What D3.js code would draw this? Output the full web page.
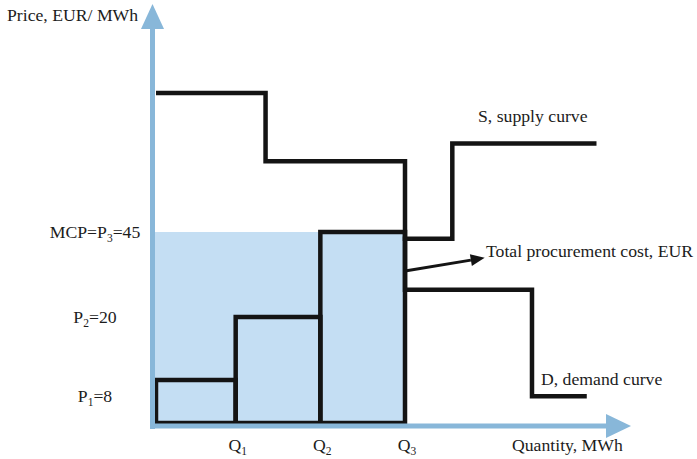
<!DOCTYPE html>
<html>
<head>
<meta charset="utf-8">
<script src="https://cdn.jsdelivr.net/npm/d3@7"></script>
<style>
  html, body { margin: 0; padding: 0; background: #fff; }
  svg { display: block; }
</style>
</head>
<body>
<svg id="chart" width="697" height="459"></svg>
<script>
// ---------------- data ----------------
const quantities = [0, 16, 33, 50];            // 0, Q1, Q2, Q3
const quantityLabels = ["Q1", "Q2", "Q3"];
const supplyPrices = [8, 20, 45];               // P1, P2, P3 (step prices)
const priceLabels = ["P1=8", "P2=20", "MCP=P3=45"];
const supplyExtQ = [50, 59.5, 88];              // supply curve beyond Q3
const supplyExtP = [43, 80, 80];
const demandQ = [0, 22, 50, 75.5, 86.5];
const demandP = [100, 73, 28, 5, 5];
const priceDomain = [0, 8, 20, 45, 100];        // schematic (non-linear) price axis
const costArrowQ = [50, 66];
const costArrowP = [33.5, 37.4];

// ---------------- layout ----------------
const FONT = "'Liberation Serif', 'Times New Roman', Times, serif";
const FS = 17.7;
const svg = d3.select("#chart");
const x = d3.scaleLinear().domain([0, 50]).range([156, 405]);
const y = d3.scaleLinear().domain(priceDomain).range([423, 380, 317, 232, 93]);
const axisColor = "#88b7d9";
const fillColor = "#c4def3";
const ink = "#141414";
const textColor = "#1c1c1c";
const axisX = 152.5, axisY = 426;

// shaded total procurement cost area
svg.append("rect")
  .attr("x", 150).attr("y", y(supplyPrices[2]))
  .attr("width", x(quantities[3]) - 150)
  .attr("height", 428 - y(supplyPrices[2]))
  .attr("fill", fillColor);

// supply bars (outlined steps)
const bars = supplyPrices.map((p, i) => ({ q0: quantities[i], q1: quantities[i + 1], p }));
svg.selectAll("rect.bar").data(bars).join("rect")
  .attr("class", "bar")
  .attr("x", d => x(d.q0)).attr("y", d => y(d.p))
  .attr("width", d => x(d.q1) - x(d.q0))
  .attr("height", d => y(0) - y(d.p))
  .attr("fill", "none").attr("stroke", ink).attr("stroke-width", 4.5);

const line = d3.line().x(d => x(d[0])).y(d => y(d[1])).curve(d3.curveStepAfter);

// supply curve beyond Q3
svg.append("path")
  .attr("d", line(supplyExtQ.map((q, i) => [q, supplyExtP[i]])))
  .attr("fill", "none").attr("stroke", ink).attr("stroke-width", 4.5)
  .attr("stroke-linejoin", "miter").attr("stroke-linecap", "square");

// demand curve
svg.append("path")
  .attr("d", line(demandQ.map((q, i) => [q, demandP[i]])))
  .attr("fill", "none").attr("stroke", ink).attr("stroke-width", 4.5)
  .attr("stroke-linejoin", "miter").attr("stroke-linecap", "butt");

// axes (arrows)
svg.append("line").attr("x1", axisX).attr("y1", 429).attr("x2", axisX).attr("y2", 26)
  .attr("stroke", axisColor).attr("stroke-width", 5);
svg.append("path").attr("d", `M${axisX},4 L${axisX - 11.5},29 L${axisX + 11.5},29 Z`).attr("fill", axisColor);
svg.append("line").attr("x1", 150).attr("y1", axisY).attr("x2", 610).attr("y2", axisY)
  .attr("stroke", axisColor).attr("stroke-width", 5);
svg.append("path").attr("d", `M631,${axisY} L606,${axisY - 12} L606,${axisY + 12} Z`).attr("fill", axisColor);

// cost arrow
const a0 = [x(costArrowQ[0]), y(costArrowP[0])];
const a1 = [x(costArrowQ[1]), y(costArrowP[1])];
const ang = Math.atan2(a1[1] - a0[1], a1[0] - a0[0]);
const headL = 14, headW = 6;
const base = [a1[0] - headL * Math.cos(ang), a1[1] - headL * Math.sin(ang)];
svg.append("line").attr("x1", a0[0]).attr("y1", a0[1]).attr("x2", base[0]).attr("y2", base[1])
  .attr("stroke", ink).attr("stroke-width", 3);
svg.append("path").attr("d",
  `M${a1[0]},${a1[1]} L${base[0] + headW * Math.sin(ang)},${base[1] - headW * Math.cos(ang)} L${base[0] - headW * Math.sin(ang)},${base[1] + headW * Math.cos(ang)} Z`)
  .attr("fill", ink);

function styleText(sel) {
  return sel.attr("font-family", FONT).attr("font-size", FS).attr("fill", textColor);
}

// helper: text with subscript digit after "P" or "Q"
function richText(sel, label) {
  const parts = label.match(/[PQ]\d|[^PQ]+|[PQ]/g);
  let shiftBack = false;
  parts.forEach(part => {
    const m = part.match(/^([PQ])(\d)$/);
    if (m) {
      const t1 = sel.append("tspan").text(m[1]);
      if (shiftBack) { t1.attr("dy", -4); }
      sel.append("tspan").text(m[2]).attr("font-size", 11.5).attr("dy", 4);
      shiftBack = true;
    } else {
      const t = sel.append("tspan").text(part);
      if (shiftBack) { t.attr("dy", -4); shiftBack = false; }
    }
  });
}

// price labels
const priceLabelDy = [22, 6, 6];
svg.selectAll("text.plab").data(supplyPrices).join("text")
  .attr("class", "plab")
  .attr("x", 95).attr("y", (d, i) => y(d) + priceLabelDy[i])
  .attr("text-anchor", "middle")
  .call(styleText)
  .each(function (d, i) { richText(d3.select(this), priceLabels[i]); });

// quantity labels
svg.selectAll("text.qlab").data(quantities.slice(1)).join("text")
  .attr("class", "qlab")
  .attr("x", d => x(d) + 2).attr("y", 451)
  .attr("text-anchor", "middle")
  .call(styleText)
  .each(function (d, i) { richText(d3.select(this), quantityLabels[i]); });

// annotations
const notes = [
  { t: "Price, EUR/ MWh", x: 7, y: 21 },
  { t: "Quantity, MWh", x: 512, y: 451 },
  { t: "S, supply curve", x: 478, y: 122 },
  { t: "D, demand curve", x: 541, y: 385 },
  { t: "Total procurement cost, EUR", x: 486, y: 257 }
];
svg.selectAll("text.note").data(notes).join("text")
  .attr("class", "note")
  .attr("x", d => d.x).attr("y", d => d.y)
  .call(styleText)
  .text(d => d.t);
</script>
</body>
</html>
